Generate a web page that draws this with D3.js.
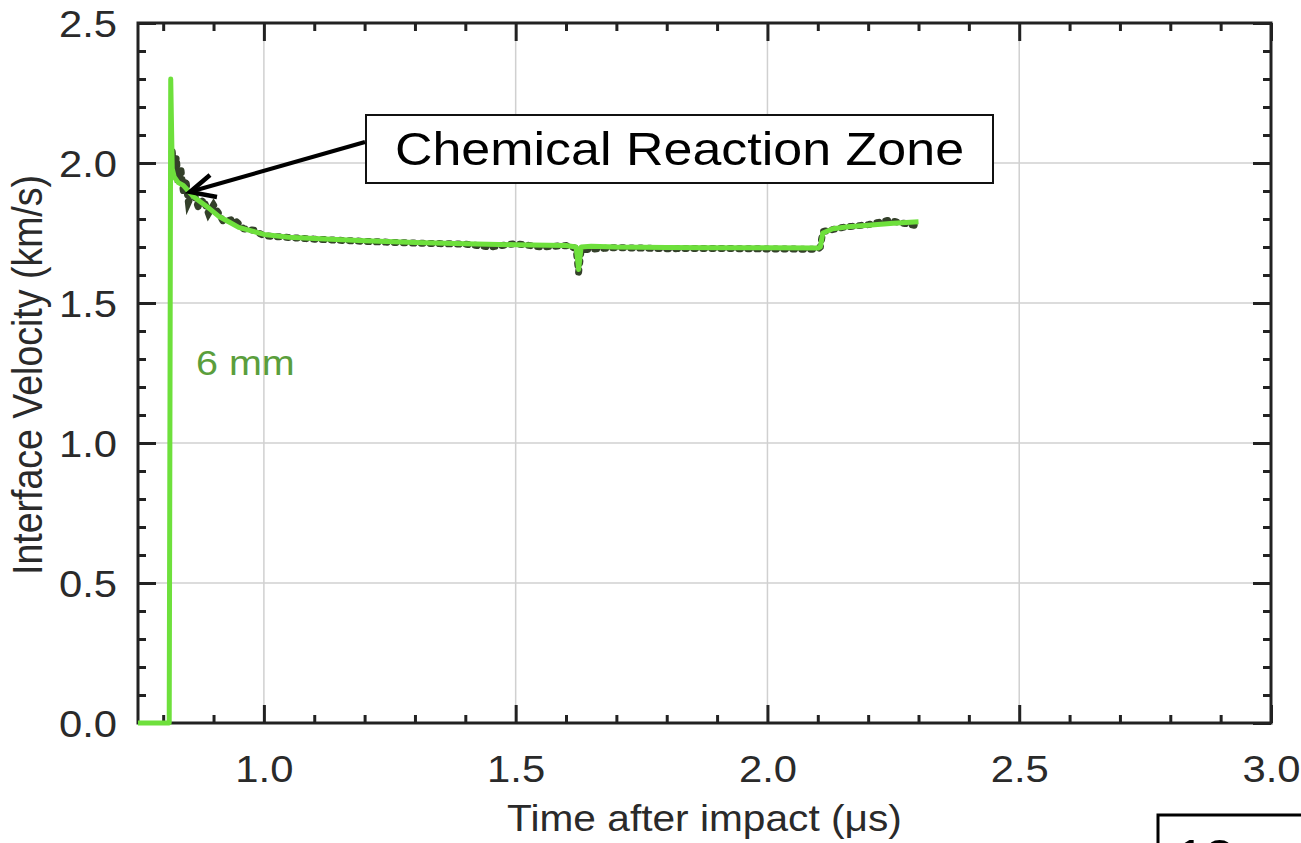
<!DOCTYPE html>
<html><head><meta charset="utf-8">
<script src="https://cdn.jsdelivr.net/npm/d3@7"></script>
<style>body{margin:0;background:#fff}svg{display:block}</style>
</head><body>
<script>
// ---- data ----
const xTickValues = [1.0, 1.5, 2.0, 2.5, 3.0];
const xTickLabels = ["1.0", "1.5", "2.0", "2.5", "3.0"];
const yTickValues = [0.0, 0.5, 1.0, 1.5, 2.0, 2.5];
const yTickLabels = ["0.0", "0.5", "1.0", "1.5", "2.0", "2.5"];
const xLabel = "Time after impact (\u03bcs)";
const yLabel = "Interface Velocity (km/s)";
const seriesLabel = "6 mm";
const annotationText = "Chemical Reaction Zone";
const cornerText = "12 mm";

// smoothed (bright green) trace
const fitTime = [0.75, 0.812, 0.815, 0.818, 0.822, 0.83, 0.84, 0.85, 0.86, 0.875, 0.89, 0.91, 0.93, 0.95, 0.97, 1.0, 1.05, 1.1, 1.2, 1.3, 1.4, 1.5, 1.6, 1.62, 1.625, 1.63, 1.65, 1.7, 1.8, 1.9, 2.0, 2.1, 2.105, 2.11, 2.13, 2.16, 2.2, 2.25, 2.3];
const fitVel  = [0.0, 0.0, 2.30, 1.98, 1.95, 1.93, 1.92, 1.90, 1.88, 1.86, 1.84, 1.81, 1.79, 1.77, 1.76, 1.745, 1.735, 1.73, 1.722, 1.716, 1.712, 1.708, 1.705, 1.70, 1.62, 1.70, 1.703, 1.70, 1.698, 1.697, 1.697, 1.696, 1.70, 1.75, 1.765, 1.772, 1.778, 1.785, 1.79];

// measured (dark) trace
const measTime = [0.818, 0.822, 0.826, 0.83, 0.835, 0.84, 0.845, 0.85, 0.86, 0.87, 0.88, 0.89, 0.9, 0.92, 0.94, 0.96, 0.98, 1.0, 1.1, 1.2, 1.3, 1.4, 1.45, 1.5, 1.55, 1.6, 1.62, 1.625, 1.63, 1.7, 1.8, 1.9, 2.0, 2.1, 2.105, 2.11, 2.15, 2.2, 2.24, 2.27, 2.3];
const measVel  = [2.04, 1.96, 2.02, 1.93, 1.98, 1.90, 1.94, 1.86, 1.90, 1.84, 1.87, 1.82, 1.85, 1.79, 1.80, 1.765, 1.76, 1.74, 1.728, 1.72, 1.714, 1.71, 1.70, 1.712, 1.70, 1.705, 1.695, 1.61, 1.69, 1.698, 1.694, 1.695, 1.693, 1.692, 1.70, 1.755, 1.77, 1.78, 1.795, 1.785, 1.775];

const W = 1301, H = 843;
const M = {left: 138, right: 1271, top: 23, bottom: 723};
const SX = 1.13; // reference glyphs are horizontally stretched

const svg = d3.select("body").append("svg").attr("width", W).attr("height", H);
const x = d3.scaleLinear().domain([0.75, 3.0]).range([M.left, M.right]);
const y = d3.scaleLinear().domain([0, 2.5]).range([M.bottom, M.top]);

const font = "'Liberation Sans', Arial, sans-serif";
const axisColor = "#222";
const labelColor = "#2a2a2a";

// grid
const g = svg.append("g");
g.selectAll(".vg").data(xTickValues.filter(v => v < 3.0)).join("line")
  .attr("x1", d => x(d)).attr("x2", d => x(d)).attr("y1", M.top).attr("y2", M.bottom)
  .attr("stroke", "#d0d0d0").attr("stroke-width", 1.5);
g.selectAll(".hg").data(yTickValues.filter(v => v > 0 && v < 2.5)).join("line")
  .attr("y1", d => y(d)).attr("y2", d => y(d)).attr("x1", M.left).attr("x2", M.right)
  .attr("stroke", "#d0d0d0").attr("stroke-width", 1.5);

// minor ticks
const xMinor = d3.range(8, 30).map(i => i / 10).filter(v => xTickValues.every(t => Math.abs(t - v) > 1e-6));
const yMinor = d3.range(1, 25).map(i => i / 10).filter(v => yTickValues.every(t => Math.abs(t - v) > 1e-6));

function styleAxis(sel) {
  sel.select(".domain").remove();
  sel.selectAll(".tick line").attr("stroke", axisColor).attr("stroke-width", 3);
  sel.selectAll(".tick text").attr("font-family", font).attr("font-size", 37).attr("fill", labelColor);
}
// bottom
svg.append("g").attr("transform", `translate(0,${M.bottom})`)
  .call(d3.axisBottom(x).tickValues(xMinor).tickSize(-8).tickFormat(""))
  .call(styleAxis);
svg.append("g").attr("transform", `translate(0,${M.bottom})`)
  .call(d3.axisBottom(x).tickValues(xTickValues).tickSize(-18)
        .tickFormat((d, i) => xTickLabels[i]))
  .call(styleAxis)
  .call(s => s.selectAll(".tick text").attr("y", 59).attr("dy", 0)
        .attr("transform", `scale(${SX},1)`));
// top
svg.append("g").attr("transform", `translate(0,${M.top})`)
  .call(d3.axisTop(x).tickValues(xMinor).tickSize(-8).tickFormat("")).call(styleAxis);
svg.append("g").attr("transform", `translate(0,${M.top})`)
  .call(d3.axisTop(x).tickValues(xTickValues).tickSize(-18).tickFormat("")).call(styleAxis);
// left
svg.append("g").attr("transform", `translate(${M.left},0)`)
  .call(d3.axisLeft(y).tickValues(yMinor).tickSize(-8).tickFormat("")).call(styleAxis);
svg.append("g").attr("transform", `translate(${M.left},0)`)
  .call(d3.axisLeft(y).tickValues(yTickValues).tickSize(-18).tickFormat((d, i) => yTickLabels[i]))
  .call(styleAxis)
  .call(s => s.selectAll(".tick text").attr("x", -21 / SX).attr("dy", "0.36em")
        .attr("transform", `scale(${SX},1)`));
// right
svg.append("g").attr("transform", `translate(${M.right},0)`)
  .call(d3.axisRight(y).tickValues(yMinor).tickSize(-8).tickFormat("")).call(styleAxis);
svg.append("g").attr("transform", `translate(${M.right},0)`)
  .call(d3.axisRight(y).tickValues(yTickValues).tickSize(-18).tickFormat("")).call(styleAxis);

// frame
svg.append("rect").attr("x", M.left).attr("y", M.top)
  .attr("width", M.right - M.left).attr("height", M.bottom - M.top)
  .attr("fill", "none").attr("stroke", axisColor).attr("stroke-width", 3);

// data
const line = d3.line().x(d => x(d[0])).y(d => y(d[1]));
svg.append("path").datum(d3.zip(measTime, measVel)).attr("d", line)
  .attr("fill", "none").attr("stroke", "#34402a").attr("stroke-width", 7)
  .attr("stroke-dasharray", "2,7").attr("stroke-linecap", "round");
svg.append("path").datum(d3.zip(fitTime, fitVel)).attr("d", line)
  .attr("fill", "none").attr("stroke", "#6ee03c").attr("stroke-width", 5)
  .attr("stroke-linejoin", "round");

// series label
svg.append("text").attr("transform", `translate(${x(0.865)},${y(1.244)}) scale(${SX},1)`)
  .attr("font-family", font).attr("font-size", 35).attr("fill", "#5a9e3c").text(seriesLabel);

// annotation box + arrow
const bx = 366, by = 115, bw = 627, bh = 68;
svg.append("rect").attr("x", bx).attr("y", by).attr("width", bw).attr("height", bh)
  .attr("fill", "#fff").attr("stroke", "#111").attr("stroke-width", 2);
svg.append("text").attr("transform", `translate(${bx + bw / 2},${by + 50}) scale(${SX},1)`)
  .attr("text-anchor", "middle")
  .attr("font-family", font).attr("font-size", 46).attr("fill", "#000").text(annotationText);
const tip = [190, 192], tail = [365, 142];
svg.append("line").attr("x1", tail[0]).attr("y1", tail[1]).attr("x2", tip[0] + 3).attr("y2", tip[1] - 1)
  .attr("stroke", "#000").attr("stroke-width", 4);
svg.append("path").attr("d", `M210,175 L${tip[0]},${tip[1]} L217,197`)
  .attr("fill", "none").attr("stroke", "#000").attr("stroke-width", 4.5).attr("stroke-linejoin", "miter");

// axis titles
svg.append("text").attr("transform", `translate(${(M.left + M.right) / 2},831) scale(${SX},1)`)
  .attr("text-anchor", "middle")
  .attr("font-family", font).attr("font-size", 36).attr("fill", labelColor).text(xLabel);
svg.append("text").attr("transform", `translate(42,${(M.top + M.bottom) / 2 + 2}) scale(${SX},1) rotate(-90)`)
  .attr("text-anchor", "middle").attr("font-family", font).attr("font-size", 37.5)
  .attr("fill", labelColor).text(yLabel);

// clipped corner box
svg.append("rect").attr("x", 1158).attr("y", 815).attr("width", 200).attr("height", 100)
  .attr("fill", "#fff").attr("stroke", "#000").attr("stroke-width", 3);
svg.append("text").attr("transform", `translate(1176,872) scale(${SX},1)`)
  .attr("font-family", font).attr("font-size", 46)
  .attr("fill", "#000").text(cornerText);
</script>
</body></html>
